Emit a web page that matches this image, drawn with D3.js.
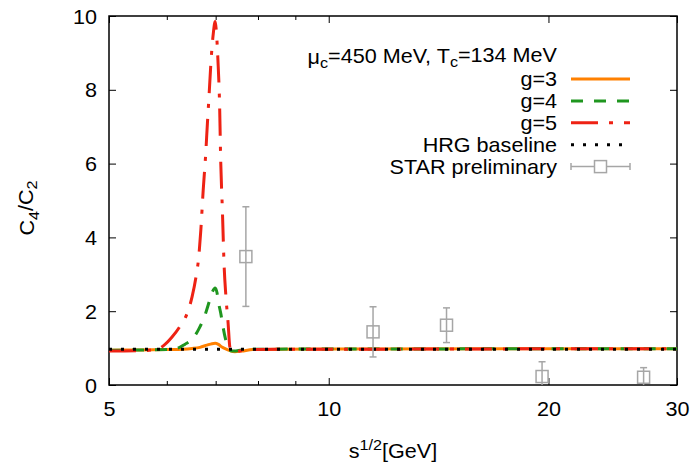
<!DOCTYPE html>
<html>
<head>
<meta charset="utf-8">
<script src="https://cdn.jsdelivr.net/npm/d3@7"></script>
<style>
body { margin: 0; background: #fff; }
text { font-family: "Liberation Sans", Arial, sans-serif; fill: #000; }
</style>
</head>
<body>
<svg id="chart" width="697" height="466"></svg>
<script>
// model curves, [sqrt(s), C4/C2]
var g3 = [[5,0.94],[5.5,0.95],[6,0.96],[6.31,0.97],[6.5,0.99],[6.66,1.02],[6.81,1.08],[6.92,1.12],[6.99,1.13],
  [7.06,1.1],[7.14,1.03],[7.24,0.97],[7.32,0.93],[7.44,0.9],[7.6,0.92],[7.87,0.96],[8.5,0.97],[10,0.975],[20,0.98],[30,0.98]];
var g4 = [[5,0.94],[5.5,0.95],[6,0.96],[6.19,0.99],[6.35,1.1],[6.52,1.27],[6.65,1.55],[6.77,1.9],[6.87,2.3],[6.93,2.53],
  [6.99,2.63],[7.03,2.5],[7.06,2.26],[7.12,1.9],[7.17,1.54],[7.22,1.25],[7.28,1.02],[7.34,0.93],[7.42,0.92],[7.6,0.95],
  [8,0.97],[10,0.975],[20,0.98],[30,0.98]];
var g5 = [[5,0.92],[5.5,0.93],[5.8,0.96],[5.95,1.08],[6.1,1.3],[6.25,1.58],[6.4,1.95],[6.5,2.4],[6.59,3.02],[6.63,3.39],
  [6.68,4.2],[6.73,5.28],[6.78,6.19],[6.82,7.09],[6.85,7.72],[6.9,8.81],[6.95,9.55],[6.99,9.85],[7.02,9.5],[7.05,8.81],
  [7.09,7.45],[7.11,6.19],[7.15,4.74],[7.19,3.21],[7.23,2.4],[7.28,1.68],[7.32,1.03],[7.36,0.92],[7.42,0.89],[7.55,0.92],
  [7.8,0.96],[8.5,0.97],[10,0.97],[15,0.975],[20,0.98],[30,0.98]];
var hrg = [[5,0.97],[30,0.97]];

// STAR preliminary points
var starX = [7.7, 11.5, 14.5, 19.6, 27];
var starY = [3.48, 1.44, 1.62, 0.23, 0.21];
var starErr = [1.35, 0.68, 0.47, 0.40, 0.26];

var xTicks = [5, 10, 20, 30];
var xMinor = [6, 7, 8, 9];
var yTicks = [0, 2, 4, 6, 8, 10];

var svg = d3.select("#chart"),
    margin = {top: 16, right: 20, bottom: 81, left: 109},
    width = +svg.attr("width") - margin.left - margin.right,
    height = +svg.attr("height") - margin.top - margin.bottom;

var x = d3.scaleLog().domain([5, 30]).range([0, width]),
    y = d3.scaleLinear().domain([0, 10]).range([height, 0]);

var g = svg.append("g")
    .attr("transform", "translate(" + margin.left + "," + margin.top + ")");

g.append("clipPath").attr("id", "clip")
  .append("rect").attr("width", width).attr("height", height);

var fs = 20, sx = 1.08;

// axes (ticks pointing inward, mirrored)
function tidy(sel) { sel.select(".domain").remove(); sel.selectAll("line").attr("stroke", "#000").attr("stroke-width", 1); }

g.append("g").attr("transform", "translate(0," + height + ")")
  .call(d3.axisBottom(x).tickValues(xTicks).tickSize(-7).tickFormat(d3.format("d")))
  .call(tidy)
  .call(function(s) {
    s.selectAll("text").attr("y", 25).attr("dy", "0.32em").attr("font-size", fs)
      .attr("font-family", "Liberation Sans, Arial, sans-serif").attr("fill", "#000")
      .attr("transform", function() { return "scale(" + sx + ",1)"; })
      .attr("x", function(d) { return 0; });
  });
g.append("g").attr("transform", "translate(0," + height + ")")
  .call(d3.axisBottom(x).tickValues(xMinor).tickSize(-4).tickFormat("")).call(tidy);
g.append("g")
  .call(d3.axisTop(x).tickValues(xTicks).tickSize(-7).tickFormat("")).call(tidy);
g.append("g")
  .call(d3.axisTop(x).tickValues(xMinor).tickSize(-4).tickFormat("")).call(tidy);

g.append("g")
  .call(d3.axisLeft(y).tickValues(yTicks).tickSize(-7).tickFormat(d3.format("d")))
  .call(tidy)
  .call(function(s) {
    s.selectAll("text").attr("x", -12).attr("dy", "0.35em").attr("font-size", fs)
      .attr("font-family", "Liberation Sans, Arial, sans-serif").attr("fill", "#000")
      .attr("transform", "translate(-12,0) scale(" + sx + ",1)").attr("x", 0);
  });
g.append("g").attr("transform", "translate(" + width + ",0)")
  .call(d3.axisRight(y).tickValues(yTicks).tickSize(-7).tickFormat("")).call(tidy);

g.append("rect")
  .attr("width", width).attr("height", height)
  .attr("fill", "none").attr("stroke", "#000").attr("stroke-width", 1.5);

// curves
var line = d3.line()
    .x(function(d) { return x(d[0]); })
    .y(function(d) { return y(d[1]); })
    .curve(d3.curveMonotoneX);

var series = [
  {name: "g=3", data: g3, color: "#ff8000", dash: null},
  {name: "g=4", data: g4, color: "#1f961f", dash: "12,11"},
  {name: "g=5", data: g5, color: "#ee2214", dash: "27,11,4,11"},
  {name: "HRG baseline", data: hrg, color: "#000", dash: "3,9"}
];

var plot = g.append("g").attr("clip-path", "url(#clip)");
plot.selectAll(".curve")
  .data(series)
  .enter().append("path")
    .attr("class", "curve")
    .attr("d", function(d) { return line(d.data); })
    .attr("fill", "none")
    .attr("stroke", function(d) { return d.color; })
    .attr("stroke-width", 3)
    .attr("stroke-dasharray", function(d) { return d.dash; });

// STAR points
var grey = "#a6a6a6";
var star = starX.map(function(v, i) { return {x: v, y: starY[i], e: starErr[i]}; });

plot.selectAll(".ebar")
  .data(star)
  .enter().append("line")
    .attr("class", "ebar")
    .attr("x1", function(d) { return x(d.x); })
    .attr("x2", function(d) { return x(d.x); })
    .attr("y1", function(d) { return y(d.y - d.e); })
    .attr("y2", function(d) { return y(d.y + d.e); })
    .attr("stroke", grey).attr("stroke-width", 1.5);

[-1, 1].forEach(function(sgn) {
  plot.selectAll(".cap" + sgn)
    .data(star)
    .enter().append("line")
      .attr("x1", function(d) { return x(d.x) - 3.5; })
      .attr("x2", function(d) { return x(d.x) + 3.5; })
      .attr("y1", function(d) { return y(d.y + sgn * d.e); })
      .attr("y2", function(d) { return y(d.y + sgn * d.e); })
      .attr("stroke", grey).attr("stroke-width", 1.5);
});

g.selectAll(".sq")
  .data(star)
  .enter().append("rect")
    .attr("class", "sq")
    .attr("x", function(d) { return x(d.x) - 6; })
    .attr("y", function(d) { return y(d.y) - 6; })
    .attr("width", 12).attr("height", 12)
    .attr("fill", "none").attr("stroke", grey).attr("stroke-width", 1.5);

// legend
function rtext(px, py, parent) {
  return parent.append("text")
    .attr("transform", "translate(" + px + "," + py + ") scale(" + sx + ",1)")
    .attr("text-anchor", "end").attr("dy", "0.35em").attr("font-size", fs);
}

var lx = 557 - margin.left, ly = 79 - margin.top, step = 21.9;
var lg = g.append("g");

var title = rtext(lx, ly - 22, lg);
title.append("tspan").text("μ");
title.append("tspan").attr("font-size", 15).attr("dy", "0.25em").text("c");
title.append("tspan").attr("dy", "-0.25em").text("=450 MeV, T");
title.append("tspan").attr("font-size", 15).attr("dy", "0.25em").text("c");
title.append("tspan").attr("dy", "-0.25em").text("=134 MeV");

series.forEach(function(s, i) {
  var yy = ly + i * step;
  rtext(lx, yy, lg).text(s.name);
  lg.append("line")
    .attr("x1", 571 - margin.left).attr("x2", 630 - margin.left)
    .attr("y1", yy).attr("y2", yy)
    .attr("stroke", s.color).attr("stroke-width", 3)
    .attr("stroke-dasharray", s.dash);
});

var sy = ly + 4 * step;
rtext(lx, sy, lg).text("STAR preliminary");
var lx1 = 571 - margin.left, lx2 = 630 - margin.left, lxc = (lx1 + lx2) / 2;
lg.append("line").attr("x1", lx1).attr("x2", lx2).attr("y1", sy).attr("y2", sy)
  .attr("stroke", grey).attr("stroke-width", 1.5);
[lx1, lx2].forEach(function(p) {
  lg.append("line").attr("x1", p).attr("x2", p).attr("y1", sy - 3.5).attr("y2", sy + 3.5)
    .attr("stroke", grey).attr("stroke-width", 1.5);
});
lg.append("rect").attr("x", lxc - 6).attr("y", sy - 6).attr("width", 12).attr("height", 12)
  .attr("fill", "#fff").attr("stroke", grey).attr("stroke-width", 1.5);

// axis titles
var xl = svg.append("text")
  .attr("transform", "translate(" + (margin.left + width / 2) + ",458) scale(" + sx + ",1)")
  .attr("text-anchor", "middle").attr("font-size", fs);
xl.append("tspan").text("s");
xl.append("tspan").attr("font-size", 15).attr("dy", "-0.55em").text("1/2");
xl.append("tspan").attr("dy", "0.4em").text("[GeV]");

var yl = svg.append("text")
  .attr("transform", "translate(34,208) rotate(-90) scale(" + sx + ",1)")
  .attr("text-anchor", "middle").attr("font-size", fs);
yl.append("tspan").text("C");
yl.append("tspan").attr("font-size", 15).attr("dy", "0.3em").text("4");
yl.append("tspan").attr("dy", "-0.3em").text("/C");
yl.append("tspan").attr("font-size", 15).attr("dy", "0.3em").text("2");
</script>
</body>
</html>
